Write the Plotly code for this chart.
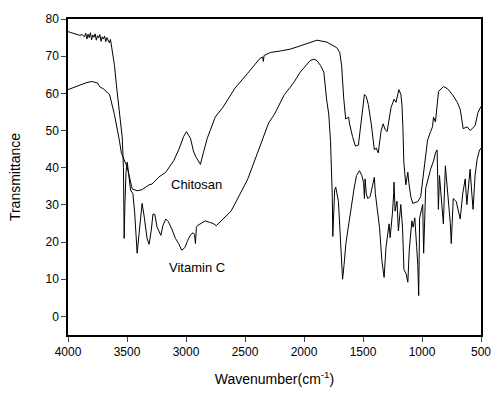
import plotly.graph_objects as go

# FTIR spectra: wavenumber (cm^-1) vs transmittance (%)
chitosan_wn = [4000, 3950, 3900, 3850, 3800, 3750, 3732, 3700, 3648, 3607, 3565, 3548,
               3498, 3456, 3414, 3372, 3313, 3288, 3230, 3171, 3104, 3062, 3020, 2996,
               2962, 2937, 2920, 2895, 2878, 2853, 2820, 2795, 2753, 2686, 2585, 2477,
               2376, 2350, 2345, 2338, 2284, 2200, 2116, 2058, 1974, 1890, 1807, 1723,
               1697, 1681, 1664, 1647, 1622, 1614, 1589, 1564, 1539, 1514, 1488, 1472,
               1455, 1430, 1404, 1388, 1371, 1346, 1329, 1312, 1296, 1262, 1237, 1220,
               1196, 1179, 1170, 1162, 1154, 1137, 1120, 1112, 1095, 1078, 1053, 1036,
               1011, 986, 953, 927, 911, 902, 886, 860, 819, 785, 743, 701, 676, 651,
               634, 617, 592, 550, 525, 500]
chitosan_t = [61.0, 61.6, 62.3, 62.8, 63.2, 62.8, 61.8, 61.2, 59.7, 54.4, 47.4, 44.0,
              40.1, 34.3, 33.8, 34.1, 35.4, 35.6, 37.5, 38.8, 41.9, 44.8, 48.4, 49.7,
              47.9, 44.5, 43.1, 41.9, 40.9, 44.0, 47.9, 50.0, 53.6, 56.3, 61.4, 65.4,
              69.3, 69.8, 68.6, 70.2, 71.0, 71.4, 71.9, 72.5, 73.5, 74.3, 73.8, 72.3,
              71.0, 67.5, 58.9, 53.1, 53.6, 51.8, 48.4, 45.8, 46.1, 53.1, 59.7, 59.1,
              57.0, 51.8, 44.8, 45.3, 44.0, 50.0, 51.8, 50.2, 49.7, 56.2, 58.4, 57.6,
              61.0, 59.7, 57.0, 51.0, 41.4, 35.4, 38.8, 36.1, 32.2, 30.4, 30.7, 30.9,
              32.2, 39.5, 47.4, 49.7, 51.0, 53.6, 52.3, 60.5, 61.8, 61.3, 59.7, 57.6,
              55.7, 50.5, 50.8, 51.0, 50.0, 51.3, 54.9, 56.5]

vitc_wn = [4000, 3950, 3900, 3880, 3860, 3850, 3840, 3830, 3820, 3810, 3800, 3790,
           3780, 3770, 3760, 3750, 3740, 3730, 3720, 3710, 3700, 3690, 3680, 3670,
           3660, 3650, 3640, 3630, 3620, 3606, 3590, 3548, 3540, 3530, 3524, 3518,
           3508, 3498, 3485, 3470, 3450, 3435, 3414, 3400, 3385, 3372, 3355, 3330,
           3313, 3295, 3280, 3265, 3245, 3213, 3195, 3171, 3150, 3120, 3090, 3062,
           3037, 3010, 2985, 2960, 2940, 2928, 2920, 2912, 2900, 2870, 2836, 2800,
           2770, 2744, 2710, 2680, 2650, 2619, 2590, 2560, 2535, 2500, 2476, 2430,
           2392, 2350, 2300, 2250, 2200, 2166, 2120, 2083, 2032, 1990, 1948, 1915,
           1890, 1860, 1832, 1807, 1790, 1775, 1765, 1760, 1756, 1750, 1740, 1731,
           1720, 1708, 1690, 1673, 1660, 1645, 1620, 1597, 1575, 1555, 1530, 1510,
           1495, 1488, 1482, 1472, 1460, 1440, 1420, 1404, 1395, 1388, 1375, 1360,
           1340, 1321, 1305, 1290, 1279, 1270, 1260, 1250, 1240, 1237, 1228, 1212,
           1200, 1180, 1165, 1153, 1135, 1120, 1108, 1086, 1075, 1061, 1045, 1036,
           1028, 1020, 994, 986, 969, 940, 927, 900, 886, 872, 861, 852, 830, 819,
           802, 780, 760, 752, 735, 710, 690, 676, 655, 634, 620, 592, 580, 567,
           550, 533, 515, 500]
vitc_t = [76.6, 76.0, 75.6, 75.8, 75.2, 76.2, 74.6, 75.9, 75.0, 76.3, 74.4, 75.7,
          75.1, 76.0, 74.3, 75.5, 74.9, 75.8, 74.0, 75.2, 74.6, 75.4, 73.9, 75.0,
          74.2, 73.6, 74.5, 72.4, 71.0, 67.5, 62.3, 51.0, 48.0, 40.0, 21.0, 30.0,
          39.0, 41.5, 38.0, 34.0, 33.0, 28.0, 17.0, 22.0, 28.0, 30.4, 27.0, 21.0,
          19.4, 23.0, 27.5, 27.5, 24.0, 21.8, 24.5, 26.2, 25.5, 23.5, 21.0, 19.6,
          17.8, 18.5, 20.5, 22.0, 22.5, 22.0, 19.6, 24.0, 24.5, 25.0, 25.7, 25.3,
          25.0, 24.4, 25.5, 26.5, 27.3, 28.3, 30.0, 31.7, 33.5, 35.5, 37.0, 41.0,
          44.5, 48.0, 52.0, 54.4, 57.5, 59.7, 61.5, 63.1, 65.7, 67.3, 68.8, 69.2,
          68.8, 67.5, 65.7, 58.0, 54.4, 47.0, 39.6, 32.0, 21.5, 28.0, 34.0, 34.8,
          32.5, 30.9, 20.0, 10.0, 14.0, 19.6, 25.0, 30.1, 34.5, 37.9, 39.2, 37.9,
          36.0, 31.7, 37.0, 33.0, 31.7, 32.2, 35.0, 37.4, 33.0, 30.9, 26.5, 23.9,
          15.0, 10.5, 18.6, 22.0, 24.9, 21.2, 23.9, 28.0, 33.0, 36.1, 28.3, 31.0,
          23.0, 30.1, 24.0, 12.6, 11.5, 9.2, 17.8, 25.7, 24.0, 26.5, 18.5, 14.0,
          5.6, 26.5, 30.1, 17.0, 34.4, 38.0, 39.6, 42.0, 44.0, 44.8, 28.8, 37.9,
          30.0, 24.9, 40.5, 32.7, 25.0, 19.6, 31.7, 30.9, 28.0, 26.2, 33.0, 37.0,
          30.1, 39.6, 34.0, 28.8, 38.0, 42.2, 44.5, 45.3]

x_ticks = [4000, 3500, 3000, 2500, 2000, 1500, 1000, 500]
y_ticks = [0, 10, 20, 30, 40, 50, 60, 70, 80]

FONT = "Liberation Sans, Arial, sans-serif"

fig = go.Figure()
fig.add_trace(go.Scatter(x=chitosan_wn, y=chitosan_t, mode="lines", name="Chitosan",
                         line=dict(color="black", width=1)))
fig.add_trace(go.Scatter(x=vitc_wn, y=vitc_t, mode="lines", name="Vitamin C",
                         line=dict(color="black", width=1)))

fig.add_annotation(x=2912, y=35.6, text="Chitosan", showarrow=False,
                   font=dict(family=FONT, size=13, color="black"))
fig.add_annotation(x=2903, y=13.2, text="Vitamin C", showarrow=False,
                   font=dict(family=FONT, size=13, color="black"))

fig.update_layout(
    width=503, height=397,
    margin=dict(l=68, r=17, t=12, b=60),
    paper_bgcolor="white", plot_bgcolor="white",
    showlegend=False,
    font=dict(family=FONT, size=12, color="black"),
    xaxis=dict(range=[4000, 500], tickvals=x_ticks, ticks="outside", ticklen=5,
               tickwidth=1, showline=True, mirror=True, linecolor="black",
               linewidth=1.5, showgrid=False, zeroline=False,
               title=dict(text="Wavenumber(cm<sup>-1</sup>)", standoff=16,
                          font=dict(size=14))),
    yaxis=dict(range=[-5, 80], tickvals=y_ticks, ticks="outside", ticklen=5,
               tickwidth=1, showline=True, mirror=True, linecolor="black",
               linewidth=1.5, showgrid=False, zeroline=False,
               title=dict(text="Transmittance", standoff=22, font=dict(size=14))),
)

fig.write_html("out.html")
